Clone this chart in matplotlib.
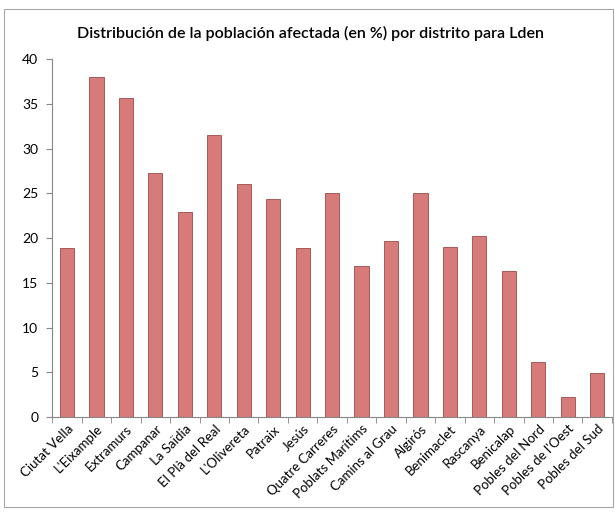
import numpy as np
import matplotlib.pyplot as plt
from matplotlib.patches import Rectangle

# datos
distritos = ["Ciutat Vella", "L'Eixample", "Extramurs", "Campanar", "La Saïdia",
             "El Plà del Real", "L'Olivereta", "Patraix", "Jesús", "Quatre Carreres",
             "Poblats Marítims", "Camins al Grau", "Algirós", "Benimaclet", "Rascanya",
             "Benicalap", "Pobles del Nord", "Pobles de l'Oest", "Pobles del Sud"]
porcentaje = [18.9, 38.0, 35.7, 27.3, 22.9, 31.5, 26.1, 24.4, 18.9, 25.1,
              16.9, 19.7, 25.0, 19.0, 20.2, 16.3, 6.2, 2.2, 4.9]
yticks = [0, 5, 10, 15, 20, 25, 30, 35, 40]

plt.rcParams['font.family'] = ['Lato', 'DejaVu Sans']

fig = plt.figure(figsize=(6.15, 5.15), dpi=100)
fig.patches.append(Rectangle((0.006, 0.015), 0.99, 0.968, transform=fig.transFigure,
                             fill=False, edgecolor='#a6a6a6', linewidth=0.8))
ax = fig.add_axes([0.085, 0.19, 0.91, 0.695])

x = np.arange(len(distritos))
ax.bar(x, porcentaje, width=0.48, color='#d67b79', edgecolor='#a65a58', linewidth=0.7)

ax.set_xlim(-0.5, len(distritos) - 0.5)
ax.set_ylim(0, 40)
ax.set_yticks(yticks)
ax.tick_params(axis='y', labelsize=10, length=4, color='#868686', pad=6)
ax.set_xticks(x)
ax.set_xticklabels(distritos, rotation=45, ha='right', rotation_mode='anchor', fontsize=9.5)
ax.tick_params(axis='x', length=0, pad=4)
ax.set_xticks(np.arange(len(distritos) + 1) - 0.5, minor=True)
ax.tick_params(axis='x', which='minor', length=4, color='#868686')

for s in ['top', 'right']:
    ax.spines[s].set_visible(False)
for s in ['left', 'bottom']:
    ax.spines[s].set_color('#868686')

fig.text(0.505, 0.935, 'Distribución de la población afectada (en %) por distrito para Lden',
         ha='center', va='center', fontsize=11.5, fontweight='semibold')

plt.savefig('out.png', dpi=100)
